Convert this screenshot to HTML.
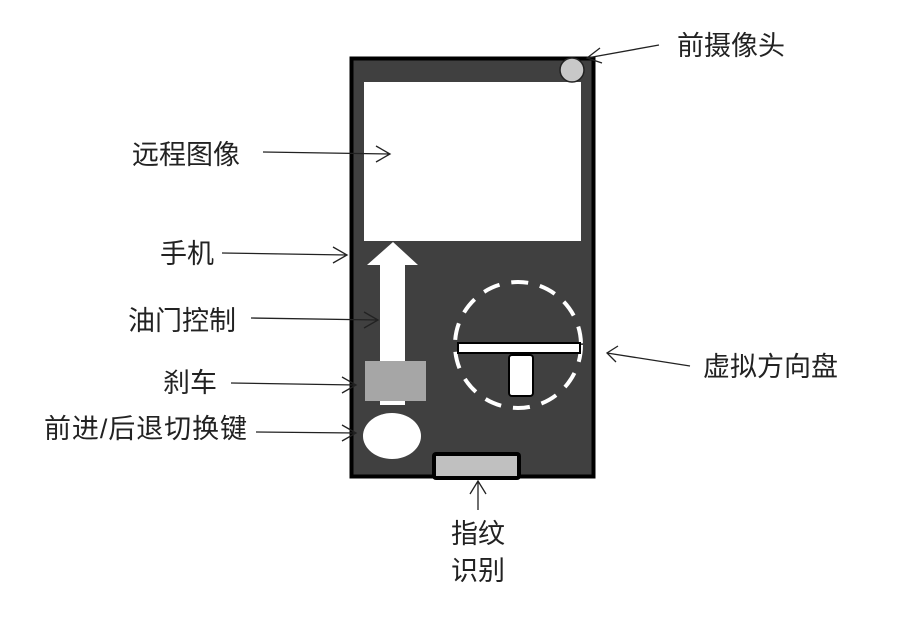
<!DOCTYPE html>
<html><head><meta charset="utf-8"><style>
body{margin:0;background:#fff;width:914px;height:612px;overflow:hidden}
text{font-family:"Liberation Sans","Noto Sans CJK SC",sans-serif;font-size:27px;fill:#222}
</style></head><body>
<svg width="914" height="612" viewBox="0 0 914 612" xmlns="http://www.w3.org/2000/svg">
<rect x="351.5" y="58.5" width="242" height="418" fill="#404040" stroke="#000" stroke-width="4"/>
<rect x="364" y="82" width="217" height="159" fill="#fff"/>
<circle cx="572" cy="70" r="12" fill="#c8c8c8" stroke="#222" stroke-width="1.5"/>
<polygon points="393,242 418,265 405,265 405,362 380,362 380,265 367,265" fill="#fff"/>
<rect x="380" y="395" width="25" height="10" fill="#fff"/>
<rect x="365" y="361" width="61" height="40" fill="#a6a6a6"/>
<ellipse cx="392" cy="436" rx="29" ry="23" fill="#fff"/>
<rect x="432" y="452" width="89" height="28" rx="4" fill="#000"/>
<rect x="436" y="456" width="81" height="20" fill="#c0c0c0"/>
<circle cx="518" cy="345" r="63" fill="none" stroke="#fff" stroke-width="4" stroke-dasharray="17 12"/>
<rect x="458" y="343" width="122" height="10" fill="#fff" stroke="#000" stroke-width="2"/>
<rect x="509" y="355" width="24" height="41" rx="3" fill="#fff" stroke="#000" stroke-width="2"/>
<g stroke="#222" stroke-width="1.3" fill="none">
<path d="M263 152 L390 154 M376 146 L390 154 L376 162"/>
<path d="M222 253 L347 255 M333 247 L347 255 L333 263"/>
<path d="M251 318 L378 320 M364 312 L378 320 L364 328"/>
<path d="M231 383 L356 385 M342 377 L356 385 L342 393"/>
<path d="M256 432 L356 433 M342 425 L356 433 L342 441"/>
<path d="M659 45 L587 58 M600 48 L587 58 L602 63"/>
<path d="M690 366 L607 353 M618 346 L607 353 L616 362"/>
<path d="M478 510 L478 481 M470 494 L478 481 L486 494"/>
</g>
<text x="132" y="164">远程图像</text>
<text x="160" y="263">手机</text>
<text x="128" y="330">油门控制</text>
<text x="163" y="392">刹车</text>
<text x="44" y="438" textLength="203">前进/后退切换键</text>
<text x="677" y="55">前摄像头</text>
<text x="703" y="376">虚拟方向盘</text>
<text x="451" y="543">指纹</text>
<text x="451" y="580">识别</text>
</svg>
</body></html>
